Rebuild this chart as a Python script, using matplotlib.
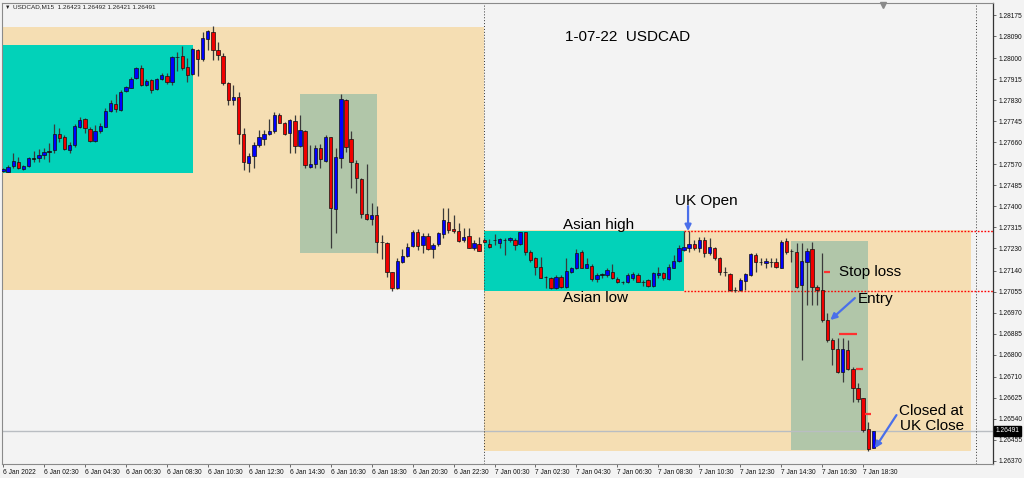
import matplotlib
matplotlib.use('Agg')
import matplotlib.pyplot as plt
import matplotlib.transforms as mtransforms
from matplotlib.patches import Rectangle
import numpy as np

plt.rcParams['font.family'] = ['Liberation Sans', 'DejaVu Sans']

# ---------------- data (USDCAD M15, 6 Jan 00:30 -> 7 Jan 19:00) ----------------
opens = [1.27543, 1.27541, 1.27565, 1.27581, 1.27552, 1.27564, 1.27594, 1.27596, 1.27609, 1.27622,
         1.27628, 1.27693, 1.27681, 1.27628, 1.27649, 1.27722, 1.27754, 1.27715, 1.27666, 1.27705,
         1.27722, 1.27786, 1.27815, 1.27790, 1.27867, 1.27880, 1.27920, 1.27961, 1.27892, 1.27912,
         1.27876, 1.27916, 1.27928, 1.27904, 1.28005, 1.28010, 1.27965, 1.27936, 1.28033, 1.27997,
         1.28078, 1.28106, 1.28033, 1.28009, 1.27901, 1.27831, 1.27843, 1.27693, 1.27577, 1.27604,
         1.27649, 1.27673, 1.27693, 1.27705, 1.27770, 1.27738, 1.27697, 1.27747, 1.27645, 1.27705,
         1.27561, 1.27572, 1.27638, 1.27585, 1.27681, 1.27390, 1.27597, 1.27831, 1.27673, 1.27577,
         1.27511, 1.27369, 1.27348, 1.27365, 1.27256, 1.27252, 1.27134, 1.27070, 1.27176, 1.27199,
         1.27240, 1.27298, 1.27244, 1.27280, 1.27228, 1.27248, 1.27288, 1.27338, 1.27309, 1.27302,
         1.27264, 1.27280, 1.27230, 1.27248, 1.27264, 1.27247, 1.27263, 1.27251, 1.27264, 1.27264,
         1.27264, 1.27247, 1.27295, 1.27217, 1.27190, 1.27156, 1.27114, 1.27110, 1.27071, 1.27115,
         1.27075, 1.27136, 1.27149, 1.27214, 1.27152, 1.27160, 1.27106, 1.27124, 1.27122, 1.27136,
         1.27106, 1.27093, 1.27095, 1.27111, 1.27122, 1.27095, 1.27101, 1.27078, 1.27122, 1.27129,
         1.27106, 1.27152, 1.27179, 1.27224, 1.27233, 1.27247, 1.27233, 1.27264, 1.27210, 1.27233,
         1.27192, 1.27136, 1.27125, 1.27062, 1.27062, 1.27098, 1.27122, 1.27203, 1.27176, 1.27170,
         1.27176, 1.27174, 1.27152, 1.27261, 1.27221, 1.27217, 1.27082, 1.27176, 1.27226, 1.27075,
         1.27062, 1.26940, 1.26859, 1.26821, 1.26731, 1.26819, 1.26740, 1.26663, 1.26623, 1.26497,
         1.26423]
highs = [1.27556, 1.27568, 1.27616, 1.27601, 1.27568, 1.27601, 1.27626, 1.27633, 1.27637, 1.27657,
         1.27734, 1.27718, 1.27689, 1.27662, 1.27734, 1.27763, 1.27758, 1.27723, 1.27730, 1.27737,
         1.27797, 1.27831, 1.27855, 1.27871, 1.27889, 1.27923, 1.27966, 1.27973, 1.27915, 1.27915,
         1.27919, 1.27939, 1.27939, 1.28009, 1.28027, 1.28050, 1.28000, 1.28040, 1.28036, 1.28108,
         1.28114, 1.28131, 1.28067, 1.28020, 1.27905, 1.27892, 1.27865, 1.27716, 1.27615, 1.27662,
         1.27710, 1.27710, 1.27754, 1.27784, 1.27777, 1.27743, 1.27753, 1.27770, 1.27770, 1.27710,
         1.27649, 1.27649, 1.27652, 1.27689, 1.27682, 1.27638, 1.27855, 1.27834, 1.27707, 1.27588,
         1.27514, 1.27572, 1.27415, 1.27402, 1.27284, 1.27257, 1.27136, 1.27190, 1.27226, 1.27253,
         1.27305, 1.27307, 1.27291, 1.27291, 1.27251, 1.27298, 1.27392, 1.27392, 1.27365, 1.27334,
         1.27311, 1.27311, 1.27264, 1.27276, 1.27272, 1.27268, 1.27287, 1.27271, 1.27273, 1.27277,
         1.27271, 1.27298, 1.27298, 1.27224, 1.27196, 1.27196, 1.27118, 1.27113, 1.27122, 1.27122,
         1.27190, 1.27156, 1.27228, 1.27224, 1.27190, 1.27166, 1.27129, 1.27132, 1.27149, 1.27166,
         1.27115, 1.27098, 1.27129, 1.27136, 1.27129, 1.27102, 1.27105, 1.27136, 1.27156, 1.27136,
         1.27166, 1.27203, 1.27244, 1.27300, 1.27300, 1.27264, 1.27277, 1.27277, 1.27271, 1.27237,
         1.27196, 1.27156, 1.27129, 1.27075, 1.27109, 1.27129, 1.27210, 1.27210, 1.27190, 1.27190,
         1.27190, 1.27190, 1.27264, 1.27271, 1.27228, 1.27252, 1.27252, 1.27232, 1.27257, 1.27082,
         1.27211, 1.26967, 1.26866, 1.26866, 1.26866, 1.26859, 1.26751, 1.26686, 1.26625, 1.26528,
         1.26492]
lows = [1.27539, 1.27539, 1.27556, 1.27552, 1.27548, 1.27561, 1.27581, 1.27581, 1.27592, 1.27580,
        1.27616, 1.27662, 1.27628, 1.27616, 1.27642, 1.27718, 1.27697, 1.27662, 1.27662, 1.27696,
        1.27720, 1.27784, 1.27781, 1.27788, 1.27865, 1.27878, 1.27915, 1.27888, 1.27888, 1.27861,
        1.27871, 1.27912, 1.27896, 1.27892, 1.27948, 1.27952, 1.27903, 1.27932, 1.27928, 1.27990,
        1.28033, 1.27993, 1.27993, 1.27892, 1.27811, 1.27811, 1.27652, 1.27548, 1.27541, 1.27554,
        1.27642, 1.27649, 1.27689, 1.27696, 1.27737, 1.27689, 1.27618, 1.27615, 1.27642, 1.27554,
        1.27554, 1.27554, 1.27554, 1.27581, 1.27232, 1.27292, 1.27556, 1.27622, 1.27475, 1.27453,
        1.27352, 1.27345, 1.27325, 1.27210, 1.27187, 1.27113, 1.27059, 1.27064, 1.27170, 1.27194,
        1.27237, 1.27224, 1.27213, 1.27224, 1.27190, 1.27240, 1.27271, 1.27291, 1.27292, 1.27257,
        1.27257, 1.27230, 1.27224, 1.27219, 1.27251, 1.27230, 1.27244, 1.27230, 1.27203, 1.27257,
        1.27224, 1.27244, 1.27203, 1.27176, 1.27122, 1.27109, 1.27068, 1.27066, 1.27066, 1.27071,
        1.27071, 1.27129, 1.27147, 1.27149, 1.27149, 1.27098, 1.27095, 1.27109, 1.27115, 1.27105,
        1.27089, 1.27085, 1.27091, 1.27102, 1.27093, 1.27079, 1.27075, 1.27075, 1.27109, 1.27102,
        1.27102, 1.27149, 1.27176, 1.27219, 1.27217, 1.27224, 1.27217, 1.27196, 1.27203, 1.27183,
        1.27122, 1.27119, 1.27057, 1.27055, 1.27057, 1.27062, 1.27119, 1.27136, 1.27163, 1.27149,
        1.27156, 1.27152, 1.27149, 1.27206, 1.27176, 1.27068, 1.26778, 1.27001, 1.27001, 1.27001,
        1.26933, 1.26852, 1.26758, 1.26724, 1.26690, 1.26738, 1.26609, 1.26609, 1.26488, 1.26411,
        1.26421]
closes = [1.27552, 1.27561, 1.27585, 1.27557, 1.27564, 1.27596, 1.27596, 1.27608, 1.27622, 1.27624,
          1.27693, 1.27677, 1.27633, 1.27649, 1.27726, 1.27750, 1.27718, 1.27666, 1.27707, 1.27726,
          1.27786, 1.27819, 1.27795, 1.27865, 1.27884, 1.27916, 1.27961, 1.27892, 1.27909, 1.27871,
          1.27916, 1.27932, 1.27904, 1.28006, 1.28006, 1.27962, 1.27932, 1.28038, 1.27997, 1.28082,
          1.28110, 1.28033, 1.28013, 1.27900, 1.27831, 1.27844, 1.27693, 1.27580, 1.27604, 1.27649,
          1.27681, 1.27693, 1.27705, 1.27770, 1.27739, 1.27693, 1.27750, 1.27645, 1.27710, 1.27568,
          1.27572, 1.27637, 1.27592, 1.27681, 1.27394, 1.27601, 1.27835, 1.27642, 1.27579, 1.27514,
          1.27369, 1.27349, 1.27365, 1.27257, 1.27257, 1.27134, 1.27070, 1.27180, 1.27199, 1.27237,
          1.27298, 1.27241, 1.27280, 1.27228, 1.27244, 1.27292, 1.27345, 1.27305, 1.27300, 1.27261,
          1.27277, 1.27233, 1.27253, 1.27221, 1.27255, 1.27237, 1.27264, 1.27268, 1.27263, 1.27271,
          1.27244, 1.27295, 1.27214, 1.27183, 1.27156, 1.27111, 1.27115, 1.27071, 1.27115, 1.27075,
          1.27138, 1.27149, 1.27213, 1.27152, 1.27166, 1.27106, 1.27122, 1.27125, 1.27143, 1.27109,
          1.27093, 1.27092, 1.27122, 1.27125, 1.27095, 1.27094, 1.27078, 1.27129, 1.27129, 1.27109,
          1.27156, 1.27179, 1.27230, 1.27237, 1.27247, 1.27230, 1.27264, 1.27210, 1.27237, 1.27190,
          1.27136, 1.27134, 1.27062, 1.27060, 1.27102, 1.27125, 1.27206, 1.27176, 1.27175, 1.27179,
          1.27175, 1.27153, 1.27257, 1.27217, 1.27219, 1.27075, 1.27180, 1.27221, 1.27075, 1.27062,
          1.26940, 1.26859, 1.26821, 1.26731, 1.26821, 1.26740, 1.26663, 1.26619, 1.26495, 1.26416,
          1.26491]

x_labels = ['6 Jan 2022', '6 Jan 02:30', '6 Jan 04:30', '6 Jan 06:30', '6 Jan 08:30',
            '6 Jan 10:30', '6 Jan 12:30', '6 Jan 14:30', '6 Jan 16:30', '6 Jan 18:30',
            '6 Jan 20:30', '6 Jan 22:30', '7 Jan 00:30', '7 Jan 02:30', '7 Jan 04:30',
            '7 Jan 06:30', '7 Jan 08:30', '7 Jan 10:30', '7 Jan 12:30', '7 Jan 14:30',
            '7 Jan 16:30', '7 Jan 18:30']
price_ticks = [1.28175, 1.28090, 1.28000, 1.27915, 1.27830, 1.27745, 1.27660, 1.27570,
               1.27485, 1.27400, 1.27315, 1.27230, 1.27140, 1.27055, 1.26970, 1.26885,
               1.26800, 1.26710, 1.26625, 1.26540, 1.26455, 1.26370]
last_price = 1.26491
header_text = 'USDCAD,M15  1.26423 1.26492 1.26421 1.26491'
chart_title = '1-07-22  USDCAD'

day1_range = (1.27061, 1.28127)
day2_range = (1.26411, 1.27305)
asian1_range = (1.27535, 1.28054)
asian_high = 1.27300
asian_low = 1.27059
zone1_range = (1.27211, 1.27855)
zone2_range = (1.26414, 1.27260)
stop_loss = 1.27134
targets = [1.26883, 1.26742, 1.26559]

# ---------------- figure ----------------
BG = '#F3F3F3'
WHEAT = '#F5DEB3'
TEAL = '#02D2B9'
SAGE = '#B1C6A9'
ARROW = '#4A6FEA'

fig = plt.figure(figsize=(10.24, 4.78), dpi=100, facecolor=BG)
ax = fig.add_axes([2 / 1024, 14 / 478, 991 / 1024, 461 / 478])
ax.set_facecolor(BG)

n = len(opens)
idx = np.arange(n)
o = np.array(opens); h = np.array(highs); l = np.array(lows); c = np.array(closes)

xmin, xmax = -0.195, 193.36
ax.set_xlim(xmin, xmax)
ax.set_ylim(1.263568, 1.282238)

def box(x0, x1, rng, color, z):
    ax.add_patch(Rectangle((x0, rng[0]), x1 - x0, rng[1] - rng[0],
                           facecolor=color, edgecolor='none', zorder=z))

box(-2, 94, day1_range, WHEAT, 0.5)
box(94, 189, day2_range, WHEAT, 0.5)
box(-2, 37.1, asian1_range, TEAL, 1)
box(94, 133, (asian_low, asian_high), TEAL, 1)
box(58, 73, zone1_range, SAGE, 1)
box(154, 169, zone2_range, SAGE, 1)

ax.axhline(last_price, color='#B9BDC2', lw=1.0, zorder=1.5)

ax.hlines([asian_high, asian_low], 133, xmax, colors='#FF0000', lw=1.0,
          linestyles=(0, (1.2, 1.2)), zorder=2)
for xv in (94, 190):
    ax.axvline(xv, color='#333333', lw=0.7, linestyle=(0, (1, 2)), zorder=2)

# candles
diff = c - o
colors = np.where(np.abs(diff) <= 2.5e-5, '#000000', np.where(diff > 0, '#0000FF', '#F00000'))
ax.vlines(idx, l, h, color='#3A3A3A', lw=0.9, zorder=3)
ax.bar(idx, np.abs(diff), bottom=np.minimum(o, c), width=0.66, color=colors,
       edgecolor='#111111', linewidth=0.5, zorder=4)

# stop / target markers
ax.hlines(stop_loss, 160.4, 161.6, colors='#FF3030', lw=1.6, zorder=5)
ax.hlines(targets, [163.3, 166.6, 168.4], [166.7, 168.0, 169.5], colors='#FF3030', lw=1.6, zorder=5)

# annotations
fs = 11
ax.text(109.8, 1.28086, chart_title, fontsize=fs, va='center', ha='left', zorder=6)
ax.text(131.2, 1.27422, 'UK Open', fontsize=fs, va='center', ha='left', zorder=6)
ax.text(109.4, 1.27325, 'Asian high', fontsize=fs, va='center', ha='left', zorder=6)
ax.text(109.4, 1.27029, 'Asian low', fontsize=fs, va='center', ha='left', zorder=6)
ax.text(163.3, 1.27136, 'Stop loss', fontsize=fs, va='center', ha='left', zorder=6)
ax.text(167.0, 1.27025, 'Entry', fontsize=fs, va='center', ha='left', zorder=6)
ax.text(175.0, 1.26570, 'Closed at', fontsize=fs, va='center', ha='left', zorder=6)
ax.text(175.2, 1.26512, 'UK Close', fontsize=fs, va='center', ha='left', zorder=6)

aprops = dict(arrowstyle='-|>', color=ARROW, lw=1.6, mutation_scale=9, shrinkA=0, shrinkB=0)
ax.annotate('', xy=(133.8, h[134]), xytext=(0, 18), textcoords='offset points',
            arrowprops=aprops, zorder=6)
ax.annotate('', xy=(161.6, o[161]), xytext=(17.6, 15.8), textcoords='offset points',
            arrowprops=aprops, zorder=6)
ax.annotate('', xy=(170.3, l[170]), xytext=(15.5, 23.8), textcoords='offset points',
            arrowprops=aprops, zorder=6)

# axes styling
ax.xaxis.set_ticks_position('bottom')
ax.set_xticks(range(0, 8 * len(x_labels), 8))
ax.set_xticklabels(x_labels, fontsize=4.8, ha='left')
ax.tick_params(axis='x', length=2.5, width=0.6, color='#555555', pad=1.2, labelcolor='#111111')

ax.yaxis.tick_right()
ax.set_yticks(price_ticks)
ax.set_yticklabels([f'{v:.5f}' for v in price_ticks], fontsize=4.8)
ax.tick_params(axis='y', length=2.5, width=0.6, color='#555555', pad=1.5, labelcolor='#111111')

for side in ('left', 'top', 'bottom'):
    ax.spines[side].set_color('#8A8A8A')
    ax.spines[side].set_linewidth(0.8)
ax.spines['right'].set_color('#333333')
ax.spines['right'].set_linewidth(0.9)

trans = mtransforms.blended_transform_factory(ax.transAxes, ax.transData)
ax.text(1.0 + 2.5 / 991, last_price, f'{last_price:.5f}', transform=trans, fontsize=4.8,
        color='white', va='center', ha='left', zorder=7, clip_on=False,
        bbox=dict(boxstyle='square,pad=0.2', facecolor='black', edgecolor='black'))

# chart header and shift marker
fig.text(5 / 1024, 1 - 7 / 478, '\u25BC', fontsize=4, va='center', ha='left', color='#222222')
fig.text(13 / 1024, 1 - 7 / 478, header_text, fontsize=4.6, va='center', ha='left', color='#222222')
ax.plot([171.9], [0.996], marker='v', markersize=4, color='#8A8A8A',
        transform=mtransforms.blended_transform_factory(ax.transData, ax.transAxes),
        clip_on=False, zorder=8)

fig.savefig('out.png', dpi=100, facecolor=BG)
